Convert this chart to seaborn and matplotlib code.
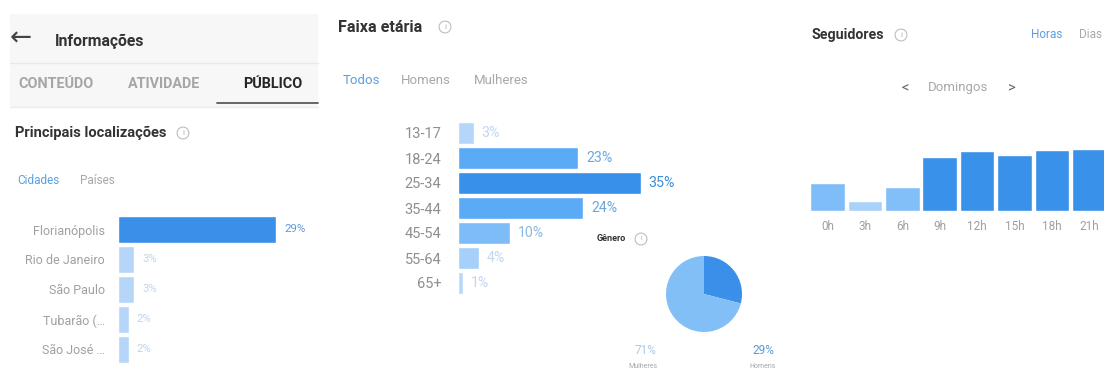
import matplotlib
matplotlib.use("Agg")
import matplotlib.pyplot as plt
from matplotlib.patches import Rectangle
from matplotlib.lines import Line2D
import seaborn as sns

# ---------------- data ----------------
cities = ["Florianópolis", "Rio de Janeiro", "São Paulo", "Tubarão (…", "São José …"]
city_pct = [29, 3, 3, 2, 2]
city_colors = ["#3a8fe8", "#b5d6f8", "#b5d6f8", "#b5d6f8", "#b5d6f8"]
city_text_colors = ["#5a9ad8", "#c3d5ea", "#c3d5ea", "#c3d5ea", "#c3d5ea"]

ages = ["13-17", "18-24", "25-34", "35-44", "45-54", "55-64", "65+"]
age_pct = [3, 23, 35, 24, 10, 4, 1]
age_colors = ["#b3d6fa", "#5aaaf5", "#3890ea", "#5aaaf5", "#7dbcf7", "#a6cff9", "#b8d8f8"]
age_text_colors = ["#c3d6ee", "#6aa8e0", "#3d8ed9", "#6aa8e0", "#8cb8e3", "#c3d6ee", "#c3d6ee"]

gender = ["Homens", "Mulheres"]
gender_pct = [29, 71]
gender_colors = ["#3a8fe8", "#82bff7"]

hours = ["0h", "3h", "6h", "9h", "12h", "15h", "18h", "21h"]
followers = [28, 10, 24, 54, 60, 56, 61, 62]
hour_colors = ["#7fbdf8", "#a9d2fa", "#82bef8", "#3a91e9", "#3a91e9", "#3a91e9", "#3a91e9", "#3a91e9"]

# ---------------- setup ----------------
sns.set_theme(style="white")
plt.rcParams["font.family"] = ["Roboto", "DejaVu Sans"]

W, H = 1104, 370
fig = plt.figure(figsize=(W / 100, H / 100), dpi=100)
fig.patch.set_facecolor("white")


def ax_px(x0, y0, x1, y1):
    return fig.add_axes([x0 / W, 1 - y1 / H, (x1 - x0) / W, (y1 - y0) / H])


def txt(x, y, s, **kw):
    kw.setdefault("va", "center")
    return fig.text(x / W, 1 - y / H, s, **kw)


def info(x, y, size=6):
    txt(x, y, "i", fontsize=size, color="#b0b0b0", ha="center",
        bbox=dict(boxstyle="circle,pad=0.35", fc="none", ec="#bdbdbd", lw=0.8))


def clean(ax):
    for s in ax.spines.values():
        s.set_visible(False)
    ax.set_xlabel("")
    ax.set_ylabel("")
    ax.set_facecolor("none")


# ---------------- panel 1: header + locations ----------------
fig.add_artist(Rectangle((10 / W, 1 - 107 / H), 308 / W, 93 / H,
                         transform=fig.transFigure, fc="#f7f7f7", ec="none", zorder=0))
fig.add_artist(Line2D([10 / W, 318 / W], [1 - 63 / H] * 2, color="#e8e8e8", lw=1))
fig.add_artist(Line2D([10 / W, 318 / W], [1 - 107 / H] * 2, color="#ececec", lw=1))
fig.add_artist(Line2D([217 / W, 318 / W], [1 - 103 / H] * 2, color="#5a5a5a", lw=1.3))

txt(10, 39, "←", fontsize=19, color="#444444", ha="left", family=["DejaVu Sans"])
txt(55, 41, "Informações", fontsize=11.3, fontweight="bold", color="#333333", ha="left")
txt(18, 84, "CONTEÚDO", fontsize=10.4, fontweight="bold", color="#a6a6a6", ha="left")
txt(128, 84, "ATIVIDADE", fontsize=10.4, fontweight="bold", color="#a6a6a6", ha="left")
txt(243, 84, "PÚBLICO", fontsize=10.4, fontweight="bold", color="#262626", ha="left")

txt(15, 133, "Principais localizações", fontsize=10.5, fontweight="bold", color="#333333", ha="left")
info(183, 133)
txt(17, 180, "Cidades", fontsize=8.5, color="#5d9fe0", ha="left")
txt(80, 180, "Países", fontsize=8.5, color="#a8a8a8", ha="left")

ax1 = ax_px(118, 214.5, 318, 364.5)
sns.barplot(x=city_pct, y=cities, hue=cities, palette=city_colors, legend=False,
            orient="h", width=0.93, saturation=1, ax=ax1)
ax1.set_xlim(0, 200 / 5.45)
ax1.set_ylim(len(cities) - 0.5, -0.5)
ax1.set_xticks([])
ax1.tick_params(axis="y", length=0, pad=9.5, labelsize=9, labelcolor="#a0a0a0")
for i, v in enumerate(city_pct):
    ax1.annotate(f"{v}%", xy=(v, i), xytext=(8, 0), textcoords="offset pixels",
                 va="center", ha="left", fontsize=8.2, color=city_text_colors[i])
clean(ax1)

# ---------------- panel 2: age + gender ----------------
txt(338, 27, "Faixa etária", fontsize=11.6, fontweight="bold", color="#333333", ha="left")
info(445, 27)
txt(343, 80, "Todos", fontsize=9.5, color="#5d9fe0", ha="left")
txt(401, 80, "Homens", fontsize=9.5, color="#a8a8a8", ha="left")
txt(474, 80, "Mulheres", fontsize=9.5, color="#a8a8a8", ha="left")

ax2 = ax_px(458, 120.5, 658, 295.5)
sns.barplot(x=age_pct, y=ages, hue=ages, palette=age_colors, legend=False,
            orient="h", width=0.88, saturation=1, ax=ax2)
ax2.set_xlim(0, 200 / 5.22)
ax2.set_ylim(len(ages) - 0.5, -0.5)
ax2.set_xticks([])
ax2.tick_params(axis="y", length=0, pad=12, labelsize=10.5, labelcolor="#8f8f8f")
for i, v in enumerate(age_pct):
    ax2.annotate(f"{v}%", xy=(v, i), xytext=(8, 0), textcoords="offset pixels",
                 va="center", ha="left", fontsize=10.2, color=age_text_colors[i])
clean(ax2)

txt(597, 239, "Gênero", fontsize=6.5, fontweight="bold", color="#333333", ha="left")
info(641, 239, size=5)

axp = ax_px(666, 256, 742, 332)
axp.pie(gender_pct, colors=gender_colors, startangle=90, counterclock=False,
        wedgeprops=dict(linewidth=0))
axp.set_xlim(-1, 1)
axp.set_ylim(-1, 1)
axp.set_aspect("equal")
axp.axis("off")

txt(645, 350, f"{gender_pct[1]}%", fontsize=8.5, color="#a9c8e6", ha="center")
txt(643, 366, gender[1], fontsize=5, color="#a8a8a8", ha="center")
txt(763, 350, f"{gender_pct[0]}%", fontsize=8.5, color="#5d98d0", ha="center")
txt(763, 366, gender[0], fontsize=5, color="#a8a8a8", ha="center")

# ---------------- panel 3: followers ----------------
txt(811, 35, "Seguidores", fontsize=10.2, fontweight="bold", color="#333333", ha="left")
info(901, 35)
txt(1031, 35, "Horas", fontsize=8.5, color="#5d9fe0", ha="left")
txt(1079, 35, "Dias", fontsize=8.5, color="#a8a8a8", ha="left")
txt(905, 88, "<", fontsize=10.5, color="#666666", ha="center")
txt(928, 88, "Domingos", fontsize=9.5, color="#a8a8a8", ha="left")
txt(1012, 88, ">", fontsize=10.5, color="#666666", ha="center")

pitch = 37.4
ax3 = ax_px(808.8, 131, 1104, 211)
sns.barplot(x=hours, y=followers, hue=hours, palette=hour_colors, legend=False,
            width=0.93, saturation=1, ax=ax3)
ax3.set_xlim(-0.5, (1104 - 808.8) / pitch - 0.5)
ax3.set_ylim(0, 80)
ax3.set_yticks([])
ax3.tick_params(axis="x", length=0, pad=6.5, labelsize=8.5, labelcolor="#a0a0a0")
clean(ax3)

fig.savefig("out.png", dpi=100, facecolor="white")
